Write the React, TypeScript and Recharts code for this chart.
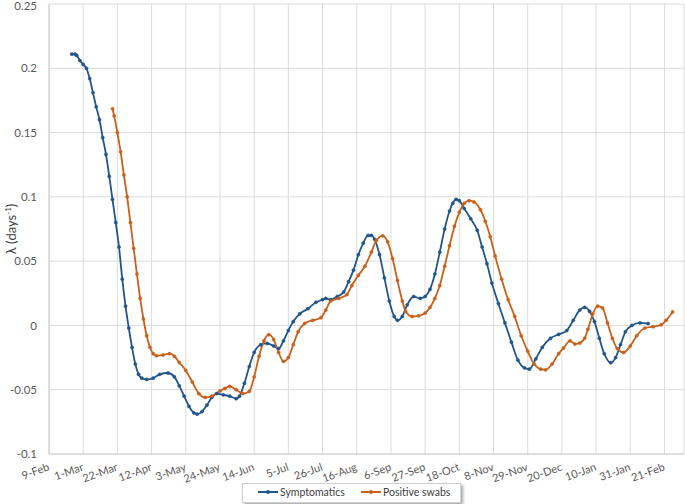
import React from 'react';
import { LineChart, Line, XAxis, YAxis, CartesianGrid } from 'recharts';

// x positions are days since 9-Feb-2020
const tickDays = [0, 21, 42, 63, 84, 105, 126, 147, 168, 189, 210, 231, 252, 273, 294, 315, 336, 357, 378];
const tickLabels = ['9-Feb', '1-Mar', '22-Mar', '12-Apr', '3-May', '24-May', '14-Jun', '5-Jul', '26-Jul', '16-Aug', '6-Sep', '27-Sep', '18-Oct', '8-Nov', '29-Nov', '20-Dec', '10-Jan', '31-Jan', '21-Feb'];
const yTicks = [-0.1, -0.05, 0, 0.05, 0.1, 0.15, 0.2, 0.25];

const symDays = [14, 16, 17, 19, 21, 23, 25, 27, 29, 31, 33, 35, 37, 39, 41, 43, 45, 47, 49, 51, 53, 55, 57, 60, 64, 68, 73, 77, 80, 83, 86, 89, 91, 94, 97, 100, 103, 107, 111, 115, 117, 120, 123, 126, 130, 134, 138, 141, 144, 147, 150, 154, 159, 164, 168, 170, 173, 177, 181, 184, 187, 190, 193, 196, 198, 200, 203, 206, 209, 212, 214, 217, 220, 224, 228, 231, 234, 237, 240, 243, 246, 248, 250, 252, 255, 259, 263, 266, 269, 272, 276, 280, 284, 288, 292, 295, 299, 303, 308, 313, 318, 322, 326, 329, 332, 335, 338, 341, 345, 348, 351, 354, 358, 363, 368];
const symValues = [0.211, 0.211, 0.21, 0.206, 0.203, 0.2, 0.192, 0.181, 0.17, 0.16, 0.146, 0.133, 0.116, 0.098, 0.08, 0.061, 0.036, 0.015, -0.002, -0.017, -0.03, -0.038, -0.041, -0.042, -0.041, -0.038, -0.037, -0.04, -0.047, -0.055, -0.063, -0.068, -0.069, -0.067, -0.062, -0.056, -0.053, -0.054, -0.055, -0.057, -0.055, -0.045, -0.032, -0.021, -0.015, -0.014, -0.016, -0.018, -0.012, -0.004, 0.003, 0.009, 0.013, 0.018, 0.02, 0.021, 0.02, 0.0225, 0.026, 0.034, 0.043, 0.055, 0.064, 0.07, 0.07, 0.067, 0.055, 0.037, 0.019, 0.007, 0.004, 0.007, 0.016, 0.0225, 0.021, 0.0225, 0.028, 0.04, 0.057, 0.075, 0.089, 0.095, 0.098, 0.097, 0.091, 0.083, 0.074, 0.061, 0.048, 0.033, 0.017, 0.002, -0.013, -0.027, -0.033, -0.034, -0.026, -0.017, -0.01, -0.007, -0.004, 0.004, 0.012, 0.014, 0.011, 0.003, -0.01, -0.022, -0.029, -0.025, -0.015, -0.005, 0.0, 0.002, 0.0015];

const posDays = [39, 40, 42, 44, 46, 48, 50, 52, 54, 56, 58, 60, 62, 64, 66, 70, 74, 77, 80, 84, 88, 92, 96, 100, 105, 108, 111, 115, 119, 123, 126, 129, 132, 135, 138, 141, 144, 147, 150, 153, 157, 162, 167, 170, 173, 178, 183, 186, 190, 194, 198, 201, 205, 208, 211, 214, 217, 219, 223, 227, 231, 234, 237, 240, 243, 246, 249, 252, 255, 258, 261, 265, 268, 271, 274, 278, 282, 286, 290, 294, 298, 302, 305, 309, 313, 316, 320, 323, 326, 329, 331, 334, 337, 340, 343, 346, 349, 353, 357, 361, 366, 371, 376, 379, 383];
const posValues = [0.1685, 0.163, 0.15, 0.135, 0.117, 0.1, 0.08, 0.06, 0.04, 0.021, 0.005, -0.008, -0.017, -0.022, -0.0236, -0.023, -0.022, -0.024, -0.0288, -0.035, -0.044, -0.053, -0.056, -0.055, -0.051, -0.049, -0.0474, -0.05, -0.053, -0.0513, -0.04, -0.024, -0.012, -0.0072, -0.011, -0.021, -0.028, -0.025, -0.015, -0.005, 0.0015, 0.004, 0.006, 0.012, 0.019, 0.021, 0.024, 0.031, 0.039, 0.046, 0.057, 0.066, 0.0697, 0.065, 0.052, 0.035, 0.019, 0.011, 0.007, 0.0075, 0.0096, 0.014, 0.021, 0.031, 0.046, 0.062, 0.077, 0.088, 0.095, 0.097, 0.096, 0.09, 0.081, 0.069, 0.054, 0.036, 0.02, 0.007, -0.008, -0.02, -0.03, -0.034, -0.0345, -0.03, -0.022, -0.0176, -0.012, -0.0145, -0.0137, -0.01, -0.003, 0.009, 0.015, 0.0135, 0.002, -0.01, -0.018, -0.021, -0.016, -0.008, -0.002, -0.001, 0.0005, 0.004, 0.0105];

const symData = symDays.map((d, i) => ({ day: d, value: symValues[i] }));
const posData = posDays.map((d, i) => ({ day: d, value: posValues[i] }));

const BLUE = '#22568a';
const ORANGE = '#c8611a';
const FONT = 'Lato, "Liberation Sans", sans-serif';

const XTick = (props: any) => {
  const { x, y, payload } = props;
  const idx = tickDays.indexOf(payload.value);
  const ay = y + 16;
  return (
    <text x={x + 1} y={ay} textAnchor="end" fontSize={11} fontFamily={FONT} fill="#595959"
      transform={`rotate(-20, ${x + 1}, ${ay})`}>
      {idx >= 0 ? tickLabels[idx] : ''}
    </text>
  );
};

const YLabel = () => (
  <text x={16} y={229} textAnchor="middle" fontSize={13} fontFamily={FONT} fill="#404040"
    transform="rotate(-90, 16, 229)">
    λ (days<tspan dy={-5} fontSize={8}>-1</tspan><tspan dy={5}>)</tspan>
  </text>
);

export default function App() {
  return (
    <div style={{ position: 'absolute', left: 0, top: 0, width: 685, height: 504, background: '#fff' }}>
      <LineChart width={685} height={504} margin={{ top: 4, right: 1, left: 0, bottom: 0 }}>
        <CartesianGrid stroke="#dcdcdc" strokeWidth={1} />
        <XAxis type="number" dataKey="day" domain={[0, 390]} ticks={tickDays} allowDataOverflow
          height={50} tickLine={false} tickSize={0} tickMargin={0}
          axisLine={{ stroke: '#d0d0d0' }} tick={<XTick />} interval={0} />
        <YAxis type="number" domain={[-0.1, 0.25]} ticks={yTicks} width={49}
          tickLine={false} tickSize={0} tickMargin={12}
          axisLine={{ stroke: '#d0d0d0' }}
          tick={{ fontSize: 11.5, fontFamily: FONT, fill: '#595959' }}
          tickFormatter={(v: number) => String(Math.round(v * 100) / 100)}
          label={<YLabel />} />
        <Line data={symData} dataKey="value" name="Symptomatics" type="monotone" stroke={BLUE}
          strokeWidth={1.8} dot={{ r: 1.6, fill: BLUE, stroke: BLUE, strokeWidth: 0.5 }}
          isAnimationActive={false} />
        <Line data={posData} dataKey="value" name="Positive swabs" type="monotone" stroke={ORANGE}
          strokeWidth={1.8} dot={{ r: 1.6, fill: ORANGE, stroke: ORANGE, strokeWidth: 0.5 }}
          isAnimationActive={false} />
      </LineChart>
      <div style={{
        position: 'absolute', left: 242, top: 483, width: 219, height: 20,
        border: '1px solid #d0d0d0', boxShadow: '2px 2px 3px rgba(0,0,0,0.35)', background: '#fff',
        fontFamily: FONT, fontSize: 10.5, lineHeight: '14px', color: '#404040', boxSizing: 'border-box',
        whiteSpace: 'nowrap'
      }}>
        <svg width={20} height={10} style={{ position: 'absolute', left: 15, top: 3 }}>
          <line x1={0} y1={5} x2={20} y2={5} stroke={BLUE} strokeWidth={2} />
          <circle cx={10} cy={5} r={2} fill={BLUE} />
        </svg>
        <span style={{ position: 'absolute', left: 37, top: 1 }}>Symptomatics</span>
        <svg width={20} height={10} style={{ position: 'absolute', left: 118, top: 3 }}>
          <line x1={0} y1={5} x2={20} y2={5} stroke={ORANGE} strokeWidth={2} />
          <circle cx={10} cy={5} r={2} fill={ORANGE} />
        </svg>
        <span style={{ position: 'absolute', left: 140, top: 1 }}>Positive swabs</span>
      </div>
    </div>
  );
}
